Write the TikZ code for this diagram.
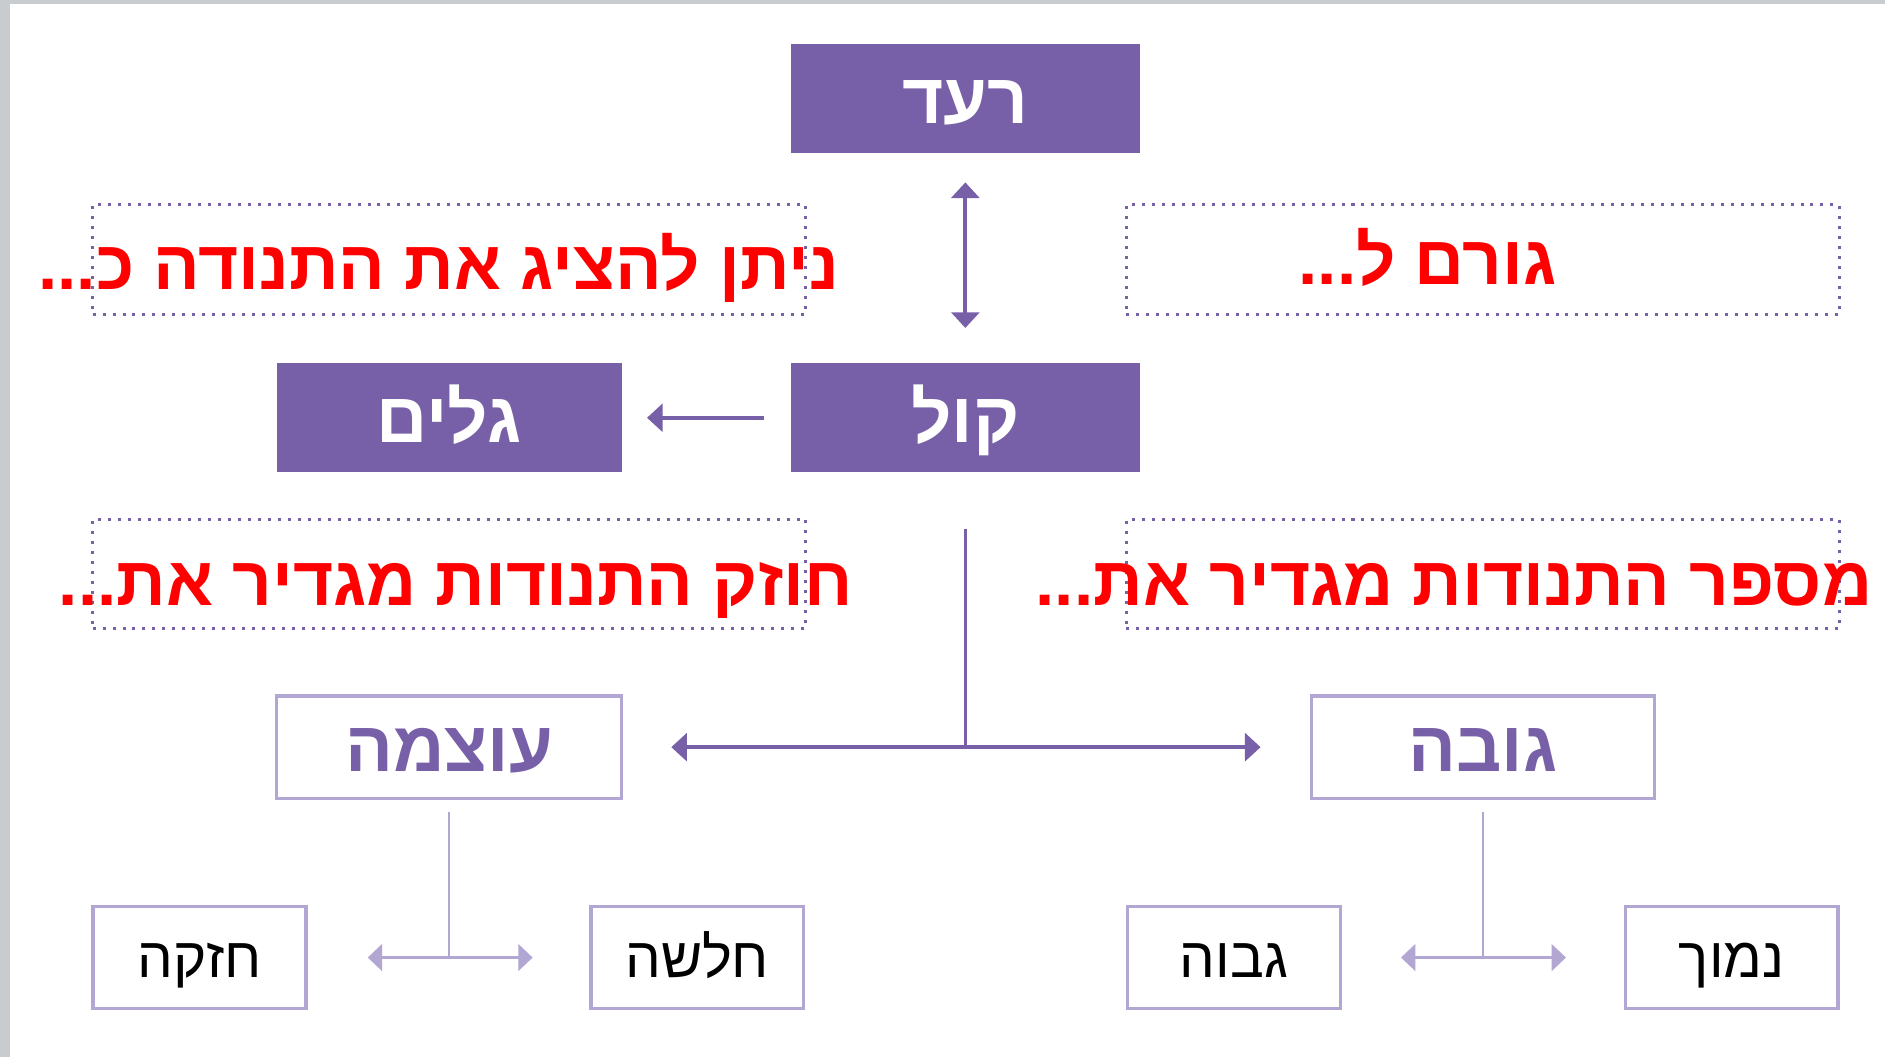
\documentclass[tikz,border=0pt]{standalone}
\usepackage{fontspec}
\TeXXeTstate=1
\newfontfamily\heb[Script=Hebrew]{Liberation Sans}
\usetikzlibrary{arrows.meta}
\definecolor{purp}{RGB}{120,96,168}
\definecolor{lpurp}{RGB}{178,166,210}
\definecolor{gborder}{RGB}{200,204,207}
\definecolor{redt}{RGB}{255,0,0}
\newcommand{\hb}[1]{\beginR #1\endR}
\begin{document}
\begin{tikzpicture}[x=1pt,y=-1pt,
  pbox/.style={fill=purp, text=white, minimum width=290pt, minimum height=91pt, inner sep=0pt,
    text height=41pt, text depth=0pt, font=\heb\bfseries\fontsize{59}{62}\selectfont},
  obox/.style={draw=lpurp, line width=2.8pt, fill=white, text=purp, minimum width=285pt, minimum height=85pt,
    inner sep=0pt, text height=40pt, text depth=0pt, font=\heb\bfseries\fontsize{59}{62}\selectfont},
  sbox/.style={draw=lpurp, line width=2.8pt, fill=white, text=black, minimum width=177pt, minimum height=85pt,
    inner sep=0pt, text height=33pt, text depth=0pt, font=\heb\fontsize{47}{50}\selectfont},
  dbox/.style={draw=purp, line width=2.5pt, dash pattern=on 2.5pt off 5.8pt, minimum width=593pt, minimum height=91pt, inner sep=0pt},
  rtext/.style={text=redt, anchor=base, inner sep=0pt, font=\heb\bfseries\fontsize{57.5}{60}\selectfont},
  darr/.style={draw=purp, line width=3.3pt, {Triangle[width=23pt,length=13pt]}-{Triangle[width=23pt,length=13pt]}},
  darrone/.style={draw=purp, line width=3.3pt, -{Triangle[width=23pt,length=13pt]}},
  dline/.style={draw=purp, line width=2.5pt},
  larr/.style={draw=lpurp, line width=3pt, {Triangle[width=22pt,length=12pt]}-{Triangle[width=22pt,length=12pt]}},
  lline/.style={draw=lpurp, line width=2.2pt}
]
\useasboundingbox (0,0) rectangle (1568,879);
\fill[gborder] (0,0) rectangle (1568,879);
\fill[white] (8.3,3.3) rectangle (1568,879);

% dotted frames
\node[dbox] (d1) at (373.5,216) {};
\node[dbox] (d2) at (1233.5,216) {};
\node[dbox] (d3) at (373.5,477.5) {};
\node[dbox] (d4) at (1233.5,477.5) {};

% purple boxes
\node[pbox] (raad) at (803,82) {\hb{רעד}};
\node[pbox] (kol) at (803,347.5) {\hb{קול}};
\node[pbox, minimum width=287pt] (galim) at (373.5,347.5) {\hb{גלים}};

% outlined boxes
\node[obox, minimum width=287pt] (ozma) at (373.5,621.5) {\hb{עוצמה}};
\node[obox] (gova) at (1233.5,621.5) {\hb{גובה}};

% small boxes
\node[sbox] (hazaka) at (166,796.5) {\hb{חזקה}};
\node[sbox] (halasha) at (580,796.5) {\hb{חלשה}};
\node[sbox] (gavoha) at (1026.5,796.5) {\hb{גבוה}};
\node[sbox] (namuch) at (1440.5,796.5) {\hb{נמוך}};

% red texts
\node[rtext] (t1) at (365,241) {\hb{ניתן להציג את התנודה כ...}};
\node[rtext] (t2) at (1187.5,237) {\hb{גורם ל...}};
\node[rtext] (t3) at (379,504) {\hb{חוזק התנודות מגדיר את...}};
\node[rtext] (t4) at (1209.5,504) {\hb{מספר התנודות מגדיר את...}};

% connectors
\draw[darr] ([yshift=-24pt]raad.south) -- ([yshift=29pt]kol.north);
\draw[darrone] ([xshift=-22pt]kol.west) -- ([xshift=21pt]galim.east);
\coordinate (j1) at (kol.south |- ozma.east);
\draw[dline] ([yshift=-47pt]kol.south) -- (j1);
\draw[darr] ([xshift=40pt]ozma.east) -- ([xshift=-41pt]gova.west);

\coordinate (j2) at (ozma.south |- hazaka.east);
\draw[lline] ([yshift=-10pt]ozma.south) -- (j2);
\draw[larr] ([xshift=50pt]hazaka.east) -- ([xshift=-47pt]halasha.west);

\coordinate (j3) at (gova.south |- gavoha.east);
\draw[lline] ([yshift=-10pt]gova.south) -- (j3);
\draw[larr] ([xshift=49pt]gavoha.east) -- ([xshift=-48pt]namuch.west);
\end{tikzpicture}
\end{document}
